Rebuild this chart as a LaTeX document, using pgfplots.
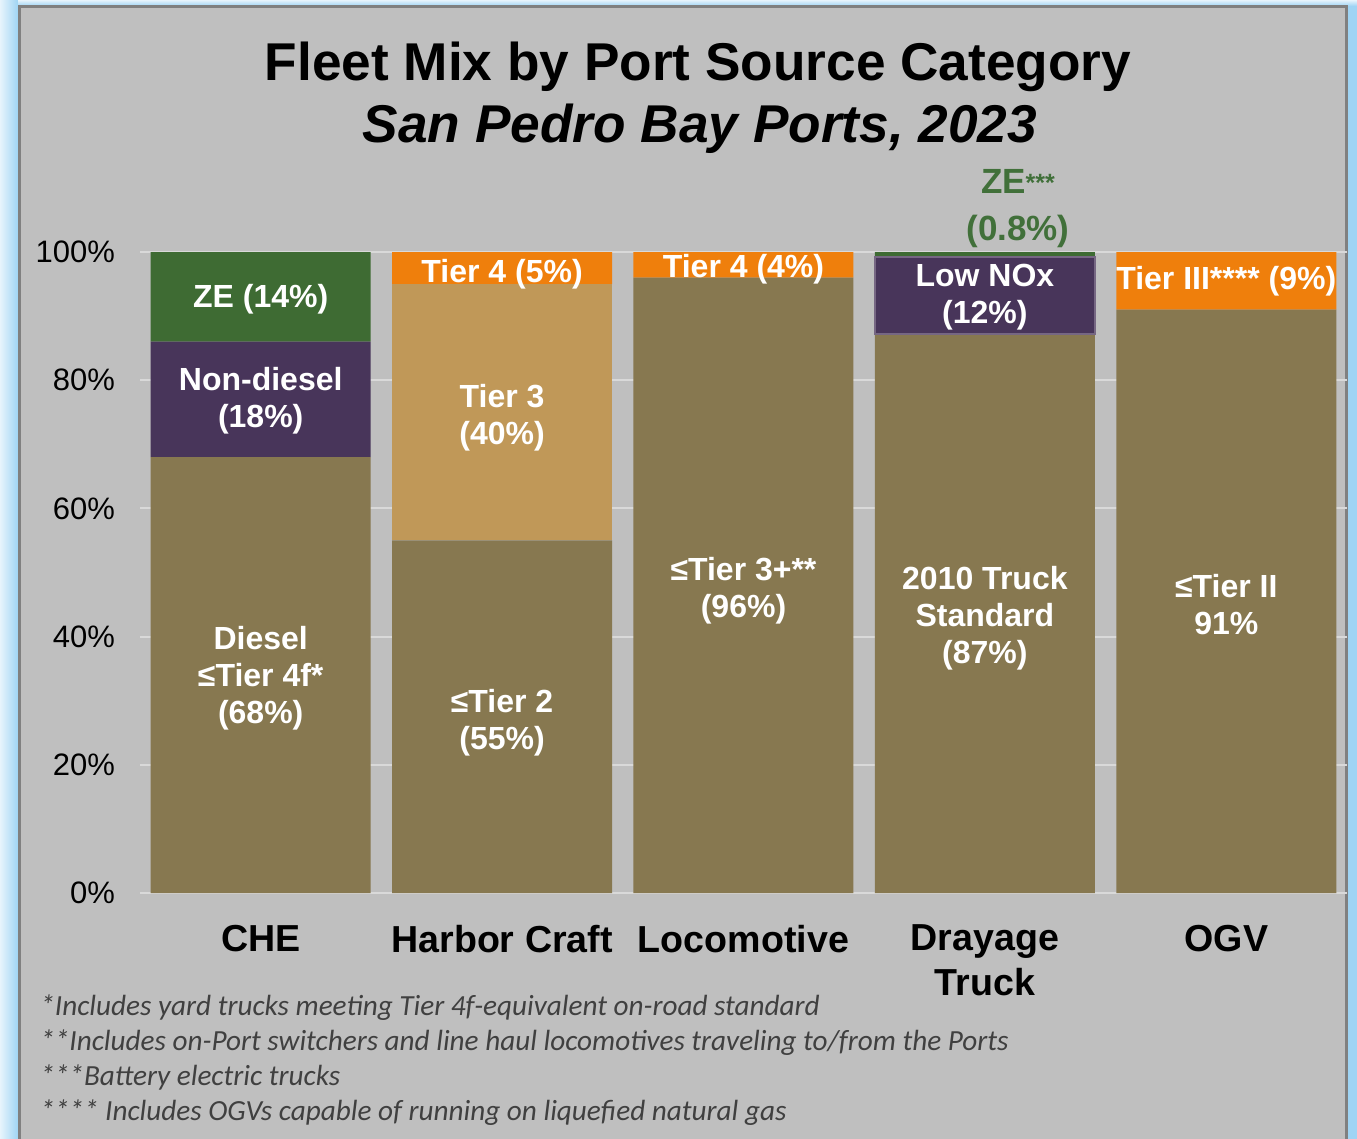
\documentclass[border=0pt]{standalone}
\usepackage{pgfplots}
\pgfplotsset{compat=1.18}
\usepackage{fontspec}
\setmainfont{Liberation Sans}
\newfontfamily\carlito{Carlito}
\definecolor{bgray}{HTML}{BFBFBF}
\definecolor{frameblue}{HTML}{9FD4F4}
\definecolor{cbrown}{HTML}{877850}
\definecolor{cpurple}{HTML}{48355A}
\definecolor{ctan}{HTML}{C09858}
\definecolor{cgreen}{HTML}{3E6B33}
\definecolor{corange}{HTML}{EF7F0C}
\definecolor{zegreen}{HTML}{41703A}
\definecolor{fgray}{HTML}{404040}
\definecolor{gridc}{HTML}{D9D9D9}
\newcommand\barlabfont{\fontsize{16}{18.5}\selectfont\bfseries}
\begin{document}
\begin{tikzpicture}
\begin{scope}[x=0.5pt,y=-0.5pt]
\useasboundingbox (0,0) rectangle (1357,1139);
\fill[frameblue] (0,0) rectangle (1357,1139);
\shade[left color=white!75!frameblue, right color=frameblue] (0,0) rectangle (18,1139);
\shade[top color=white!75!frameblue, bottom color=frameblue] (18,0) rectangle (1357,6);
\filldraw[fill=bgray, draw=gray, line width=1.5] (19.5,7) rectangle (1346.5,1150);
\node[font=\fontsize{26.6}{30}\selectfont\bfseries] at (698,67) {Fleet Mix by Port Source Category};
\node[font=\fontsize{26.6}{30}\selectfont\bfseries\itshape] at (700,129) {San Pedro Bay Ports, 2023};
\begin{scope}[every node/.style={anchor=base west, inner sep=0pt, text=fgray, font=\carlito\itshape\fontsize{14.6}{16}\selectfont}]
\node at (40,1015) {*Includes yard trucks meeting Tier 4f-equivalent on-road standard};
\node at (40,1050) {**Includes on-Port switchers and line haul locomotives traveling to/from the Ports};
\node at (40,1085) {***Battery electric trucks};
\node at (40,1120) {**** Includes OGVs capable of running on liquefied natural gas};
\end{scope}
\end{scope}
\begin{axis}[
  at={(70pt,-446.5pt)}, anchor=south west,
  scale only axis, width=603.5pt, height=320.5pt,
  xmin=-0.5, xmax=4.5, ymin=0, ymax=100,
  ybar stacked, bar width=110pt,
  clip=false,
  axis line style={draw=none},
  tick style={draw=none},
  ymajorgrids, grid style={color=gridc, line width=1pt},
  ytick={0,20,40,60,80,100},
  yticklabels={0\%,20\%,40\%,60\%,80\%,100\%},
  yticklabel style={font=\fontsize{15.5}{18}\selectfont, xshift=-9pt},
  xtick={0,1,2,3,4},
  xticklabels={CHE,Harbor Craft,Locomotive,{Drayage\\Truck},OGV},
  xticklabel style={font=\fontsize{18.8}{22.5}\selectfont\bfseries, align=center, yshift=-12.5pt},
]
\addplot[fill=cbrown, draw=none] coordinates {(0,68) (1,55) (2,96) (3,87.2) (4,91)};
\addplot[fill=cpurple, draw=none] coordinates {(0,18) (1,0) (2,0) (3,12) (4,0)};
\addplot[fill=ctan, draw=none] coordinates {(0,0) (1,40) (2,0) (3,0) (4,0)};
\addplot[fill=cgreen, draw=none] coordinates {(0,14) (1,0) (2,0) (3,0.8) (4,0)};
\addplot[fill=corange, draw=none] coordinates {(0,0) (1,5) (2,4) (3,0) (4,9)};
\coordinate (L1) at (axis cs:0,92.6);
\coordinate (L2) at (axis cs:0,76.8);
\coordinate (L3) at (axis cs:0,33.5);
\coordinate (L4) at (axis cs:1,96.6);
\coordinate (L5) at (axis cs:1,74.1);
\coordinate (L6) at (axis cs:1,26.6);
\coordinate (L7) at (axis cs:2,97.3);
\coordinate (L8) at (axis cs:2,47.2);
\coordinate (L9) at (axis cs:3,93.0);
\coordinate (L10) at (axis cs:3,42.9);
\coordinate (L11) at (axis cs:4,95.4);
\coordinate (L12) at (axis cs:4,45.0);
\coordinate (L13) at (axis cs:3.137,106.8);
\coordinate (D1) at (axis cs:2.545,87.2);
\coordinate (D2) at (axis cs:3.455,99.2);
\end{axis}
\draw[color=cpurple!75!white, line width=1pt] (D1) rectangle (D2);
\begin{scope}[every node/.style={text=white, align=center, font=\barlabfont}]
\node at (L1) {ZE (14\%)};
\node at (L2) {Non-diesel\\(18\%)};
\node at (L3) {Diesel\\≤Tier 4f*\\(68\%)};
\node at (L4) {Tier 4 (5\%)};
\node at (L5) {Tier 3\\(40\%)};
\node at (L6) {≤Tier 2\\(55\%)};
\node at (L7) {Tier 4 (4\%)};
\node at (L8) {≤Tier 3+**\\(96\%)};
\node at (L9) {Low NOx\\(12\%)};
\node at (L10) {2010 Truck\\Standard\\(87\%)};
\node at (L11) {Tier III**** (9\%)};
\node at (L12) {≤Tier II\\91\%};
\end{scope}
\node[text=zegreen, align=center, font=\fontsize{17.5}{23.5}\selectfont\bfseries] at (L13) {ZE{\fontsize{12.5}{12}\selectfont\raisebox{0.15ex}{***}}\\(0.8\%)};
\end{tikzpicture}
\end{document}
